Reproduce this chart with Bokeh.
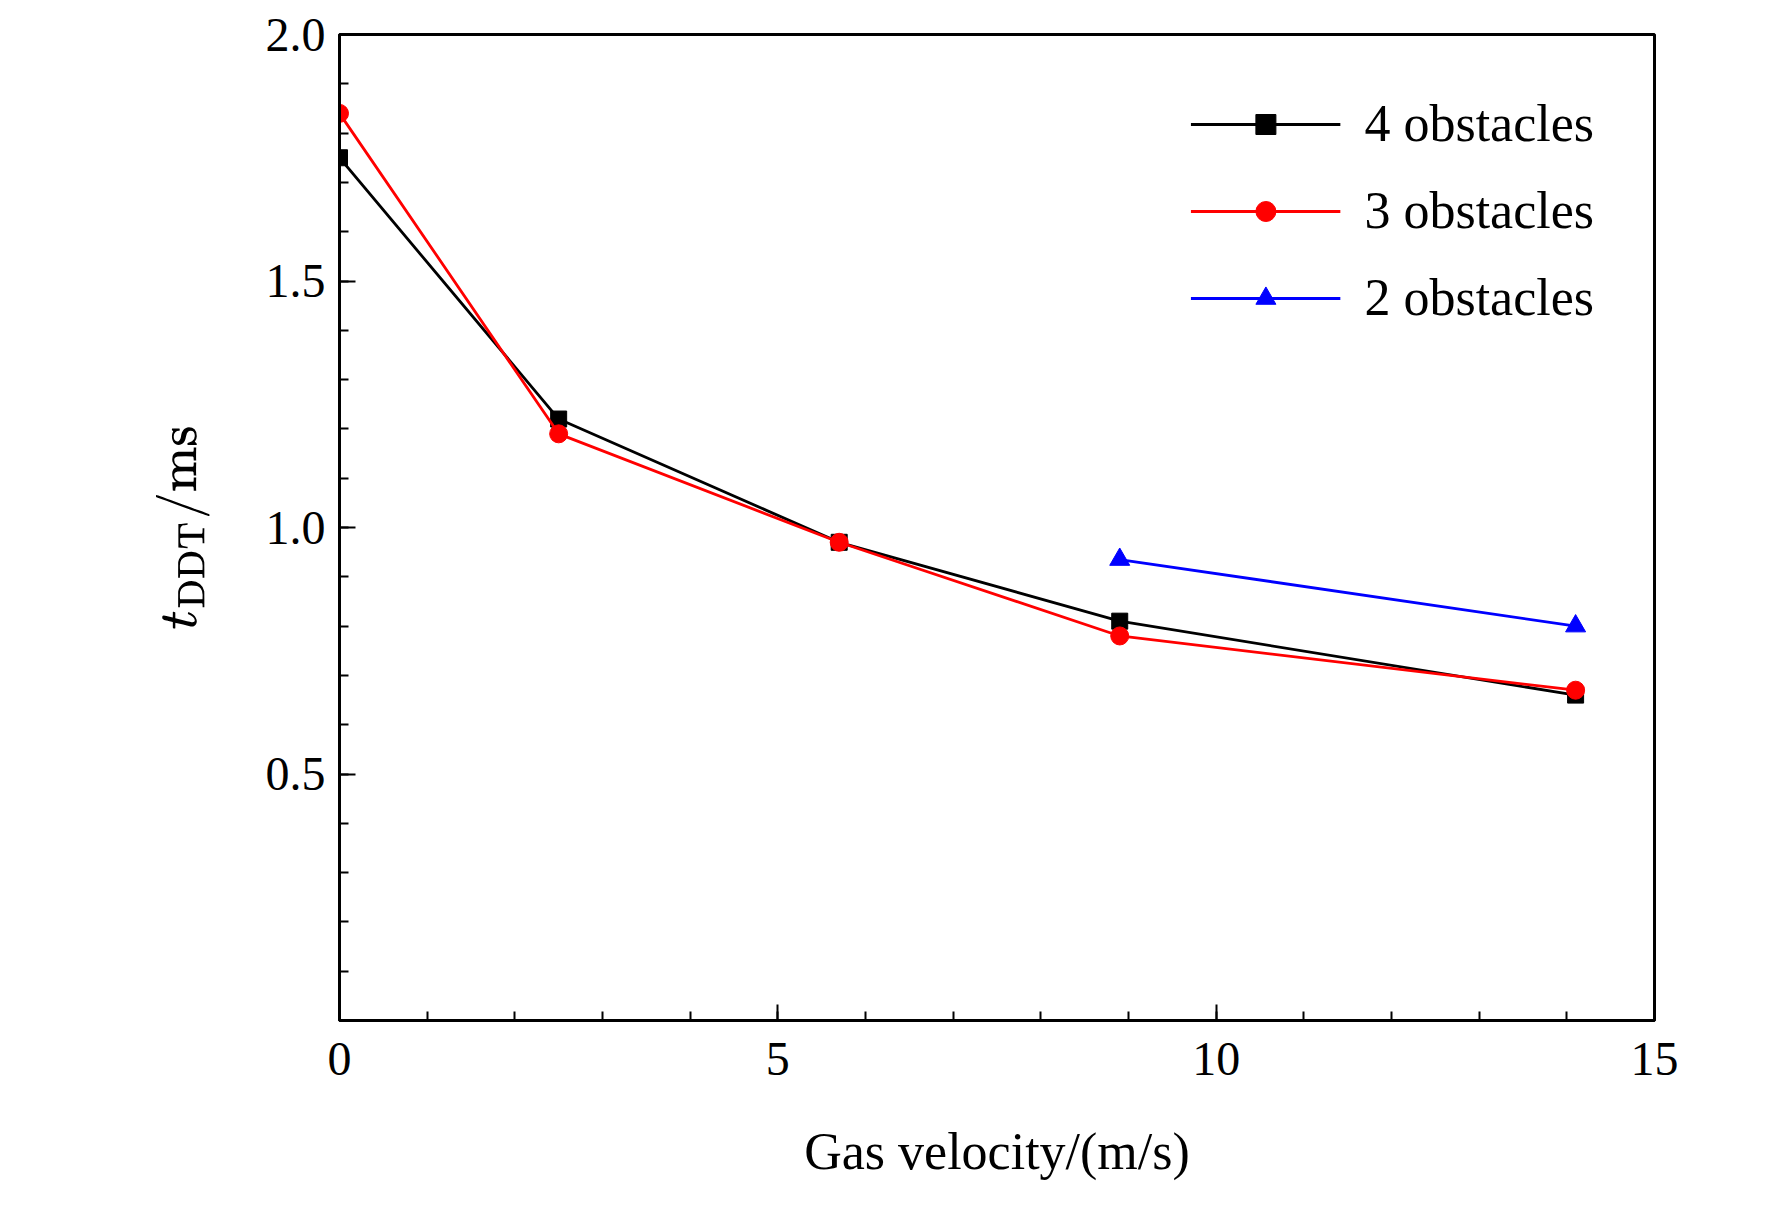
from bokeh.plotting import figure
from bokeh.models import FixedTicker, Legend, LegendItem, Range1d, NumeralTickFormatter
from bokeh.embed import file_html
from bokeh.resources import INLINE

x4 = [0, 2.5, 5.7, 8.9, 14.1]
y4 = [1.75, 1.22, 0.97, 0.81, 0.66]
x3 = [0, 2.5, 5.7, 8.9, 14.1]
y3 = [1.84, 1.19, 0.97, 0.78, 0.67]
x2 = [8.9, 14.1]
y2 = [0.935, 0.80]

FONT = "Liberation Serif"
p = figure(width=1756, height=1190, output_backend="svg", toolbar_location=None,
           x_range=Range1d(0, 15), y_range=Range1d(0, 2.0),
           min_border_left=339, min_border_right=102, min_border_top=34, min_border_bottom=170)
p.grid.visible = False
p.background_fill_color = "white"
p.outline_line_color = "black"
p.outline_line_width = 3

p.xaxis.ticker = FixedTicker(ticks=[0, 5, 10, 15], minor_ticks=list(range(0, 16)))
p.yaxis.ticker = FixedTicker(ticks=[0.5, 1.0, 1.5, 2.0], minor_ticks=[i / 10 for i in range(0, 21)])
p.yaxis.formatter = NumeralTickFormatter(format="0.0")
for ax in (p.xaxis[0], p.yaxis[0]):
    ax.axis_line_width = 3
    ax.major_tick_in = 16
    ax.major_tick_out = 0
    ax.minor_tick_in = 9
    ax.minor_tick_out = 0
    ax.major_tick_line_width = 2
    ax.minor_tick_line_width = 2
    ax.major_label_text_font = FONT
    ax.major_label_text_font_size = "48px"
    ax.major_label_text_color = "black"
    ax.axis_label_text_font = FONT
    ax.axis_label_text_font_style = "normal"
    ax.axis_label_text_font_size = "52px"
    ax.axis_label_text_color = "black"
p.xaxis.major_label_standoff = 22
p.yaxis.major_label_standoff = 14
p.xaxis.axis_label = "Gas velocity/(m/s)"
p.xaxis.axis_label_standoff = 45
p.yaxis.axis_label = r"$$t_{\mathrm{DDT}}\mathrm{/ms}$$"
p.yaxis.axis_label_standoff = 50

l4 = p.line(x4, y4, line_color="black", line_width=2.8)
m4 = p.scatter(x4, y4, marker="square", size=16, color="black")
l3 = p.line(x3, y3, line_color="red", line_width=2.8)
m3 = p.scatter(x3, y3, marker="circle", size=18, color="red")
l2 = p.line(x2, y2, line_color="blue", line_width=2.8)
m2 = p.scatter(x2, y2, marker="triangle", size=20, color="blue")

legend = Legend(items=[LegendItem(label="4 obstacles", renderers=[l4, m4]),
                       LegendItem(label="3 obstacles", renderers=[l3, m3]),
                       LegendItem(label="2 obstacles", renderers=[l2, m2])],
                location="top_right", border_line_alpha=0, background_fill_alpha=0,
                label_text_font=FONT, label_text_font_size="52px", label_text_color="black",
                glyph_width=150, glyph_height=50, spacing=28, label_standoff=24,
                margin=40, padding=20)
p.add_layout(legend)

open("out.html", "w").write(file_html(p, INLINE))
